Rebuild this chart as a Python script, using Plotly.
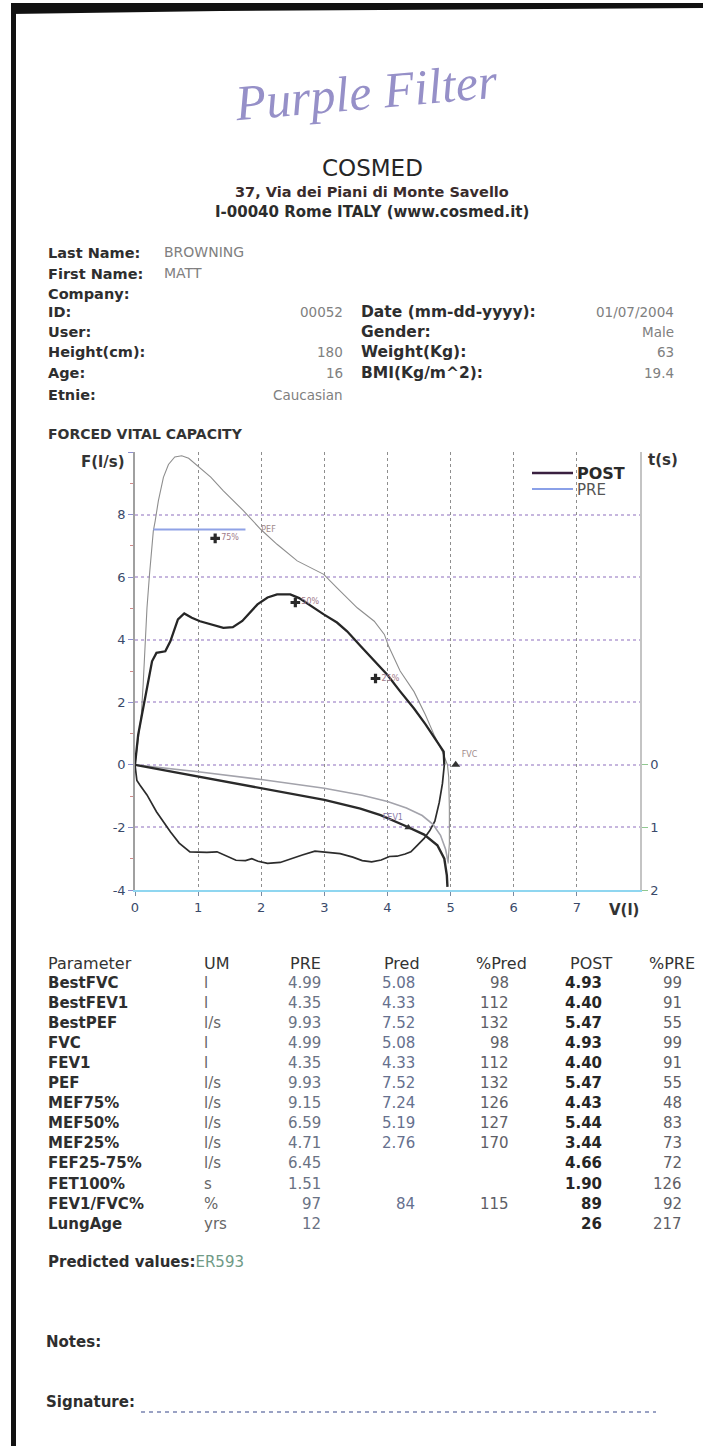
import plotly.graph_objects as go

FONT = "DejaVu Sans"
W, H = 703, 1446
ML, MR, MT, MB = 135, 63, 452, 556
PW = W - ML - MR
PH = H - MT - MB


def ax(px):
    return (px - ML) / PW


def ay(py):
    return (H - MB - py) / PH


# ---------------- curve data ----------------
# PRE flow-volume (volume l, flow l/s)
pre_fv_vol = [0, 0.05, 0.10, 0.13, 0.16, 0.19, 0.23, 0.26, 0.29, 0.32, 0.37, 0.45, 0.53, 0.63,
              0.74, 0.85, 1.03, 1.20, 1.40, 1.72, 1.99, 2.25, 2.57, 2.78, 2.99, 3.20, 3.52, 3.79,
              3.95, 4.02, 4.20, 4.42, 4.60, 4.74, 4.87, 4.95, 4.97, 4.98, 4.98, 4.96]
pre_fv_flow = [0, 0.8, 1.6, 2.6, 4.06, 5.02, 6.09, 6.94, 7.47, 7.8, 8.44, 9.19, 9.6, 9.84,
               9.88, 9.8, 9.5, 9.2, 8.76, 8.12, 7.53, 7.05, 6.52, 6.3, 6.09, 5.66, 5.02, 4.59,
               4.17, 3.78, 3.0, 2.34, 1.6, 0.95, 0.42, 0.0, -0.4, -1.4, -2.5, -3.15]

# POST flow-volume, expiratory part
post_exp_vol = [0, 0.05, 0.11, 0.16, 0.21, 0.27, 0.34, 0.48, 0.56, 0.61, 0.68, 0.78, 0.90, 1.03,
                1.20, 1.40, 1.55, 1.70, 1.94, 2.10, 2.25, 2.46, 2.60, 2.80, 2.99, 3.20, 3.36,
                3.58, 3.80, 4.00, 4.20, 4.42, 4.60, 4.79, 4.89, 4.90]
post_exp_flow = [0, 0.96, 1.6, 2.13, 2.67, 3.31, 3.58, 3.63, 3.95, 4.27, 4.65, 4.84, 4.7, 4.59,
                 4.5, 4.38, 4.4, 4.6, 5.13, 5.35, 5.45, 5.45, 5.33, 5.05, 4.81, 4.55, 4.27,
                 3.78, 3.3, 2.87, 2.35, 1.8, 1.3, 0.74, 0.42, 0.0]

# POST flow-volume, inspiratory part
post_insp_vol = [4.90, 4.87, 4.82, 4.75, 4.67, 4.58, 4.46, 4.37, 4.28, 4.15, 4.03, 3.90, 3.75,
                 3.60, 3.45, 3.25, 3.05, 2.85, 2.65, 2.45, 2.30, 2.10, 1.95, 1.85, 1.75, 1.60,
                 1.45, 1.30, 1.14, 0.87, 0.70, 0.56, 0.34, 0.19, 0.08, 0.03, 0.0]
post_insp_flow = [0, -0.6, -1.2, -1.8, -2.1, -2.35, -2.6, -2.78, -2.85, -2.92, -2.93, -3.04,
                  -3.1, -3.06, -2.95, -2.84, -2.8, -2.76, -2.88, -3.02, -3.12, -3.15, -3.08,
                  -3.0, -3.06, -3.05, -2.92, -2.78, -2.8, -2.78, -2.5, -2.14, -1.5, -0.96,
                  -0.65, -0.5, 0.0]

# Volume-time curves (volume l, time s)
post_vt_vol = [0, 0.5, 1.0, 1.5, 2.0, 2.5, 3.0, 3.57, 3.89, 4.26, 4.58, 4.79, 4.90, 4.94, 4.95]
post_vt_time = [0, 0.095, 0.19, 0.285, 0.38, 0.465, 0.56, 0.70, 0.805, 0.965, 1.115, 1.285,
                1.50, 1.765, 1.95]
pre_vt_vol = [0, 0.5, 1.0, 2.0, 2.46, 3.0, 3.6, 4.0, 4.3, 4.55, 4.72, 4.84, 4.92, 4.96]
pre_vt_time = [0, 0.05, 0.11, 0.235, 0.295, 0.375, 0.485, 0.585, 0.69, 0.81, 0.95, 1.125,
               1.35, 1.55]

# predicted markers
mef_pct_labels = ["75%", "50%", "25%"]
mef_pred_vol = [1.27, 2.54, 3.81]
mef_pred_flow = [7.24, 5.19, 2.76]
pef_pred = 7.52
pef_line_vol = [0.29, 1.75]
fvc_pred = 5.08
fev1_pred = 4.33
fev1_time = 1.0

# axis ticks
x_ticks = [0, 1, 2, 3, 4, 5, 6, 7]
y_ticks = [-4, -2, 0, 2, 4, 6, 8, 10]
y_ticklabels = ["-4", "-2", "0", "2", "4", "6", "8", ""]
t_ticks = [0, 1, 2]

# legend
legend_names = ["POST", "PRE"]
legend_colors = ["#3a2040", "#8aa0e8"]

# ---------------- report text data ----------------
left_labels = ["Last Name:", "First Name:", "Company:", "ID:", "User:", "Height(cm):", "Age:", "Etnie:"]
left_values = ["BROWNING", "MATT", "", "00052", "", "180", "16", "Caucasian"]
right_labels = ["Date (mm-dd-yyyy):", "Gender:", "Weight(Kg):", "BMI(Kg/m^2):"]
right_values = ["01/07/2004", "Male", "63", "19.4"]

headers = ["Parameter", "UM", "PRE", "Pred", "%Pred", "POST", "%PRE"]
params = ["BestFVC", "BestFEV1", "BestPEF", "FVC", "FEV1", "PEF", "MEF75%", "MEF50%", "MEF25%",
          "FEF25-75%", "FET100%", "FEV1/FVC%", "LungAge"]
um = ["l", "l", "l/s", "l", "l", "l/s", "l/s", "l/s", "l/s", "l/s", "s", "%", "yrs"]
pre_vals = ["4.99", "4.35", "9.93", "4.99", "4.35", "9.93", "9.15", "6.59", "4.71", "6.45", "1.51", "97", "12"]
pred_vals = ["5.08", "4.33", "7.52", "5.08", "4.33", "7.52", "7.24", "5.19", "2.76", "", "", "84", ""]
pct_pred = ["98", "112", "132", "98", "112", "132", "126", "127", "170", "", "", "115", ""]
post_vals = ["4.93", "4.40", "5.47", "4.93", "4.40", "5.47", "4.43", "5.44", "3.44", "4.66", "1.90", "89", "26"]
pct_pre = ["99", "91", "55", "99", "91", "55", "48", "83", "73", "72", "126", "92", "217"]

fig = go.Figure()

# PRE curves
fig.add_trace(go.Scatter(x=pre_fv_vol, y=pre_fv_flow, mode="lines", name="PRE",
                         line=dict(color="#8e8e8e", width=1.1), showlegend=False, hoverinfo="skip"))
fig.add_trace(go.Scatter(x=pre_vt_vol, y=pre_vt_time, yaxis="y2", mode="lines",
                         line=dict(color="#a3a3ab", width=1.6), showlegend=False, hoverinfo="skip"))
# POST curves
fig.add_trace(go.Scatter(x=post_exp_vol, y=post_exp_flow, mode="lines", name="POST",
                         line=dict(color="#262626", width=2.3), showlegend=False, hoverinfo="skip"))
fig.add_trace(go.Scatter(x=post_insp_vol, y=post_insp_flow, mode="lines",
                         line=dict(color="#2c2c2c", width=1.7), showlegend=False, hoverinfo="skip"))
fig.add_trace(go.Scatter(x=post_vt_vol, y=post_vt_time, yaxis="y2", mode="lines",
                         line=dict(color="#2a2a2a", width=2.4), showlegend=False, hoverinfo="skip"))

# PEF predicted line
fig.add_trace(go.Scatter(x=pef_line_vol, y=[pef_pred] * len(pef_line_vol), mode="lines",
                         line=dict(color="#8fa2e6", width=2), showlegend=False, hoverinfo="skip"))
fig.add_trace(go.Scatter(x=[pef_line_vol[1] + 0.25], y=[pef_pred], mode="text", text=["PEF"],
                         textposition="middle right", textfont=dict(size=8, color="#a08a8a", family=FONT),
                         showlegend=False, hoverinfo="skip"))
# MEF predicted markers
fig.add_trace(go.Scatter(x=mef_pred_vol, y=mef_pred_flow, mode="markers+text", text=mef_pct_labels,
                         textposition="middle right",
                         textfont=dict(size=8, color="#a07a8a", family=FONT),
                         marker=dict(symbol="cross", size=8, color="#2a2a2a"),
                         showlegend=False, hoverinfo="skip"))
# FVC marker
fig.add_trace(go.Scatter(x=[fvc_pred], y=[0], mode="markers+text", text=["FVC"],
                         textposition="top right", textfont=dict(size=8, color="#a08a8a", family=FONT),
                         marker=dict(symbol="triangle-up", size=8, color="#333"),
                         showlegend=False, hoverinfo="skip", cliponaxis=False))
# FEV1 marker (on time axis)
fig.add_trace(go.Scatter(x=[fev1_pred], y=[fev1_time], yaxis="y2", mode="markers+text", text=["FEV1"],
                         textposition="top left", textfont=dict(size=8, color="#8a7aa8", family=FONT),
                         marker=dict(symbol="triangle-up", size=7, color="#333"),
                         showlegend=False, hoverinfo="skip"))

fig.update_layout(
    width=W, height=H, autosize=False,
    margin=dict(l=ML, r=MR, t=MT, b=MB, pad=0),
    paper_bgcolor="white", plot_bgcolor="white",
    font=dict(family=FONT, color="#333"),
    showlegend=False,
    xaxis=dict(range=[0, 8], tickvals=x_ticks, ticktext=[str(v) for v in x_ticks],
               showgrid=True, gridcolor="#8e8e8e", griddash="3px,3px", gridwidth=1,
               zeroline=False, showline=True, linecolor="#8fd6f0", linewidth=2,
               ticks="outside", ticklen=4, tickcolor="#7a8aa0",
               tickfont=dict(size=13, color="#3a4a6a")),
    yaxis=dict(range=[-4, 10], tickvals=y_ticks, ticktext=y_ticklabels,
               showgrid=True, gridcolor="#c6b6de", griddash="dot", gridwidth=1.5,
               zeroline=False, showline=True, linecolor="#a0a0a0", linewidth=1.5,
               ticks="outside", ticklen=5, tickcolor="#8f8fd0",
               minor=dict(dtick=1, tick0=1, ticks="outside", ticklen=3, tickcolor="#d08a8a", showgrid=False),
               tickfont=dict(size=13, color="#3a4a6a")),
    yaxis2=dict(range=[2, -5], overlaying="y", side="right", tickvals=t_ticks,
                ticktext=[str(v) for v in t_ticks], showgrid=False, zeroline=False,
                showline=True, linecolor="#c4c4c4", linewidth=1.5,
                ticks="outside", ticklen=6, tickcolor="#90c890",
                tickfont=dict(size=13, color="#3a4a6a")),
)


def txt(px, py, s, size=15, bold=False, color="#2e2e2e", anchor="left", family=FONT, angle=0,
        style="normal"):
    if bold:
        s = "<b>" + s + "</b>"
    fig.add_annotation(x=ax(px), y=ay(py), xref="paper", yref="paper", text=s, showarrow=False,
                       xanchor=anchor, yanchor="middle", textangle=angle,
                       font=dict(size=size, color=color, family=family, style=style))


shapes = []

# handwriting
txt(366, 92, "Purple Filter", size=50, color="#9690c8", anchor="center",
    family="Liberation Serif", angle=-5, style="italic")

# header
txt(372, 168, "COSMED", size=23, color="#262626", anchor="center")
txt(372, 192, "37, Via dei Piani di Monte Savello", size=14.5, bold=True, color="#3a2c2c", anchor="center")
txt(372, 212, "I-00040 Rome ITALY (www.cosmed.it)", size=15, bold=True, color="#2c2c2c", anchor="center")

# patient info
left_rows_y = [253, 274, 294, 312, 332, 352, 373, 395]
for i, (lab, val) in enumerate(zip(left_labels, left_values)):
    txt(46, left_rows_y[i], lab, size=14.5, bold=True)
    if val:
        if i < 2:
            txt(162, left_rows_y[i] - 1, val, size=14, color="#808080")
        else:
            txt(345, left_rows_y[i], val, size=13.5, color="#808080", anchor="right")
for j, (lab, val) in enumerate(zip(right_labels, right_values)):
    y = left_rows_y[3 + j]
    txt(359, y, lab, size=15.5, bold=True)
    txt(676, y, val, size=13.5, color="#808080", anchor="right")

# chart texts
txt(46, 434, "FORCED VITAL CAPACITY", size=14, bold=True, color="#333")
txt(127, 462, "F(l/s)", size=15, bold=True, color="#333", anchor="right")
txt(646, 460, "t(s)", size=15, bold=True, color="#333")
txt(641, 910, "V(l)", size=15, bold=True, color="#333", anchor="right")

# legend (inside plot, top right)
leg_y = [473, 489]
for k, (nm, col) in enumerate(zip(legend_names, legend_colors)):
    shapes.append(dict(type="line", xref="paper", yref="paper", x0=ax(532), x1=ax(573),
                       y0=ay(leg_y[k]), y1=ay(leg_y[k]), line=dict(color=col, width=2.5 if k == 0 else 2)))
    if k == 0:
        txt(575, leg_y[k], nm, size=16, bold=True, color="#2a2a2a")
    else:
        txt(575, leg_y[k] + 1, nm, size=15, color="#555")

# table
col_pos = [(46, "left"), (202, "left"), (323, "right"), (422, "right"), (529, "right"),
           (614, "right"), (697, "right")]
for k, hdr in enumerate(headers):
    txt(col_pos[k][0], 963, hdr, size=16, color="#333", anchor=col_pos[k][1])
val_right = [None, None, 323, 417, 511, 604, 684]
row_y0, row_dy = 983, 20.05
for r in range(len(params)):
    y = row_y0 + r * row_dy
    txt(46, y, params[r], size=15, bold=True)
    txt(202, y, um[r], size=15, color="#666")
    txt(val_right[2], y, pre_vals[r], size=15, color="#6a7284", anchor="right")
    if pred_vals[r]:
        txt(val_right[3], y, pred_vals[r], size=15, color="#66708e", anchor="right")
    if pct_pred[r]:
        txt(val_right[4], y, pct_pred[r], size=15, color="#5e5e66", anchor="right")
    txt(val_right[5], y, post_vals[r], size=15, bold=True, color="#262626", anchor="right")
    txt(val_right[6], y, pct_pre[r], size=15, color="#5e5e66", anchor="right")

# footer
txt(46, 1262, "<b>Predicted values:</b><span style='color:#6f9a86'>ER593</span>", size=15, color="#2e2e2e")
txt(44, 1342, "Notes:", size=15, bold=True)
txt(44, 1402, "Signature:", size=15, bold=True)

shapes += [
    # signature dashed line
    dict(type="line", xref="paper", yref="paper", x0=ax(141), x1=ax(656), y0=ay(1412), y1=ay(1412),
         line=dict(color="#9aa2c4", width=2, dash="4px,4px")),
    # scan edges
    dict(type="rect", xref="paper", yref="paper", x0=ax(11), x1=ax(16), y0=ay(1446), y1=ay(4),
         fillcolor="#111", line=dict(width=0)),
    dict(type="path", xref="paper", yref="paper",
         path=f"M {ax(11)},{ay(3)} L {ax(703)},{ay(3)} L {ax(703)},{ay(8)} L {ax(220)},{ay(11)} L {ax(11)},{ay(14)} Z",
         fillcolor="#111", line=dict(width=0)),
]
fig.update_layout(shapes=shapes)

fig.write_html("out.html", config={"displayModeBar": False})
